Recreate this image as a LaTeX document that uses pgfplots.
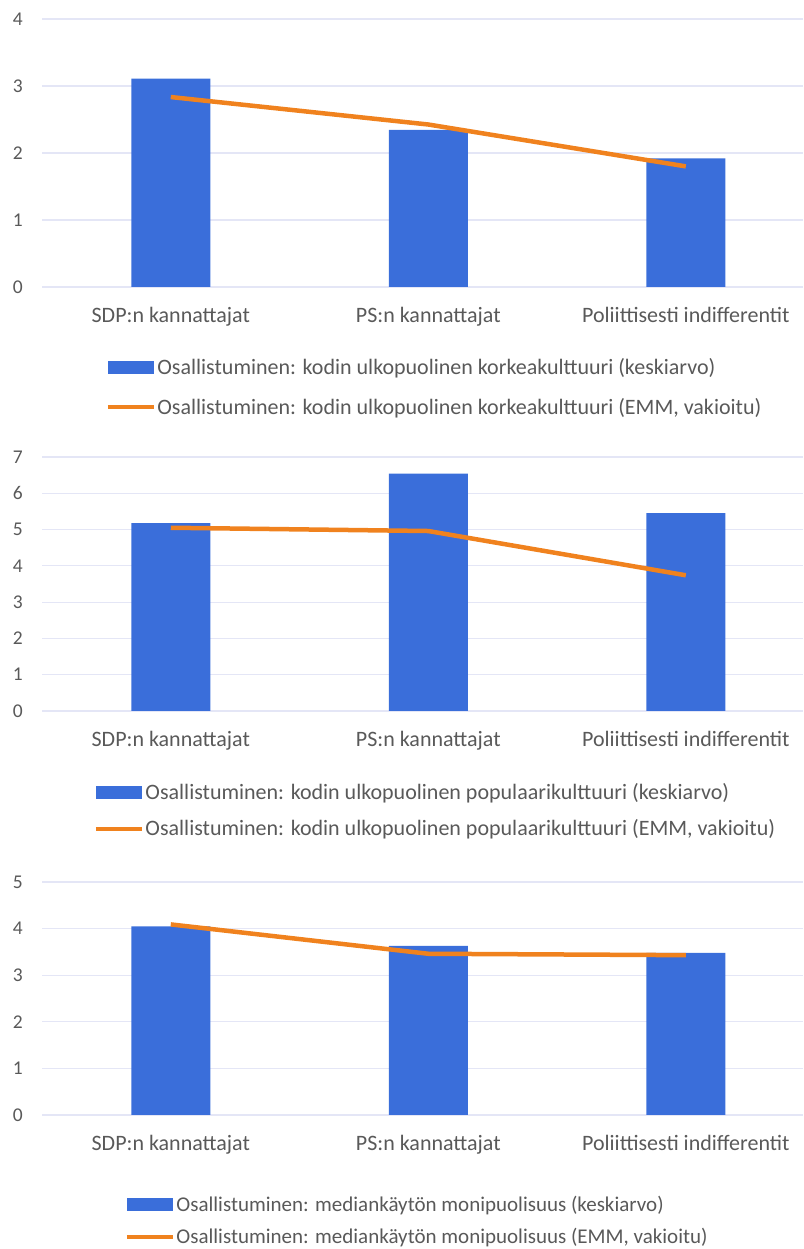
\documentclass[border=0pt]{standalone}
\usepackage{fontspec}
\setmainfont{Carlito}
\usepackage{pgfplots}
\pgfplotsset{compat=1.18}
\definecolor{barblue}{RGB}{58,110,218}
\definecolor{lineor}{RGB}{240,130,30}
\definecolor{gridc}{RGB}{228,230,246}
\definecolor{txt}{RGB}{89,89,89}
\pgfplotsset{
  mychart/.style={
    scale only axis, width=761pt, anchor=south west,
    xmin=-0.5, xmax=2.455, ymin=0,
    xtick={0,1,2},
    xticklabels={SDP:n kannattajat, PS:n kannattajat, Poliittisesti indifferentit},
    axis line style={draw=none}, tick style={draw=none},
    ymajorgrids, grid style={draw=gridc, line width=1.2pt},
    /pgf/number format/assume math mode=true,
    yticklabel style={inner sep=0pt, xshift=-19pt, font=\fontsize{19.5}{23}\selectfont, text=txt},
    xticklabel style={inner sep=0pt, yshift=-20pt, font=\fontsize{22}{26}\selectfont, text=txt},
    clip=false,
    legend cell align=left,
    legend style={draw=none, fill=none, inner sep=0pt, outer sep=0pt,
      anchor=north west, font=\fontsize{22}{26}\selectfont, text=txt,
      nodes={inner sep=1.5pt}, column sep=0pt},
  },
  barleg/.style={legend image code/.code={\fill[barblue] (0pt,-6.5pt) rectangle (46pt,6.5pt);}},
  lineleg/.style={legend image code/.code={\draw[lineor, line width=4pt] (0pt,0pt) -- (46pt,0pt);}},
}
\begin{document}
\begin{tikzpicture}
\path[use as bounding box] (0,0) rectangle (803pt,1249pt);
% Chart 1
\begin{axis}[mychart, at={(42pt,962pt)}, height=268pt, ymax=4, ytick={0,1,2,3,4},
  legend style={at={(0.084,-0.262)}, row sep=19pt}]
\addplot[ybar, bar width=79pt, fill=barblue, draw=none, barleg] coordinates {(0,3.11) (1,2.345) (2,1.92)};
\addlegendentry{Osallistuminen: kodin ulkopuolinen korkeakulttuuri (keskiarvo)}
\addplot[lineor, line width=4.5pt, mark=none, lineleg] coordinates {(0,2.835) (1,2.425) (2,1.80)};
\addlegendentry{Osallistuminen: kodin ulkopuolinen korkeakulttuuri (EMM, vakioitu)}
\end{axis}
% Chart 2
\begin{axis}[mychart, at={(42pt,538pt)}, height=254pt, ymax=7, ytick={0,1,...,7},
  legend style={at={(0.0683,-0.280)}, row sep=15.5pt}]
\addplot[ybar, bar width=79pt, fill=barblue, draw=none, barleg] coordinates {(0,5.18) (1,6.54) (2,5.45)};
\addlegendentry{Osallistuminen: kodin ulkopuolinen populaarikulttuuri (keskiarvo)}
\addplot[lineor, line width=4.5pt, mark=none, lineleg] coordinates {(0,5.05) (1,4.96) (2,3.74)};
\addlegendentry{Osallistuminen: kodin ulkopuolinen populaarikulttuuri (EMM, vakioitu)}
\end{axis}
% Chart 3
\begin{axis}[mychart, at={(42pt,134pt)}, height=233pt, ymax=5, ytick={0,1,...,5},
  legend style={at={(0.109,-0.340)}, row sep=13pt, font=\fontsize{21}{25}\selectfont}]
\addplot[ybar, bar width=79pt, fill=barblue, draw=none, barleg] coordinates {(0,4.05) (1,3.63) (2,3.48)};
\addlegendentry{Osallistuminen: mediankäytön monipuolisuus (keskiarvo)}
\addplot[lineor, line width=4.5pt, mark=none, lineleg] coordinates {(0,4.09) (1,3.46) (2,3.43)};
\addlegendentry{Osallistuminen: mediankäytön monipuolisuus (EMM, vakioitu)}
\end{axis}
\end{tikzpicture}
\end{document}
